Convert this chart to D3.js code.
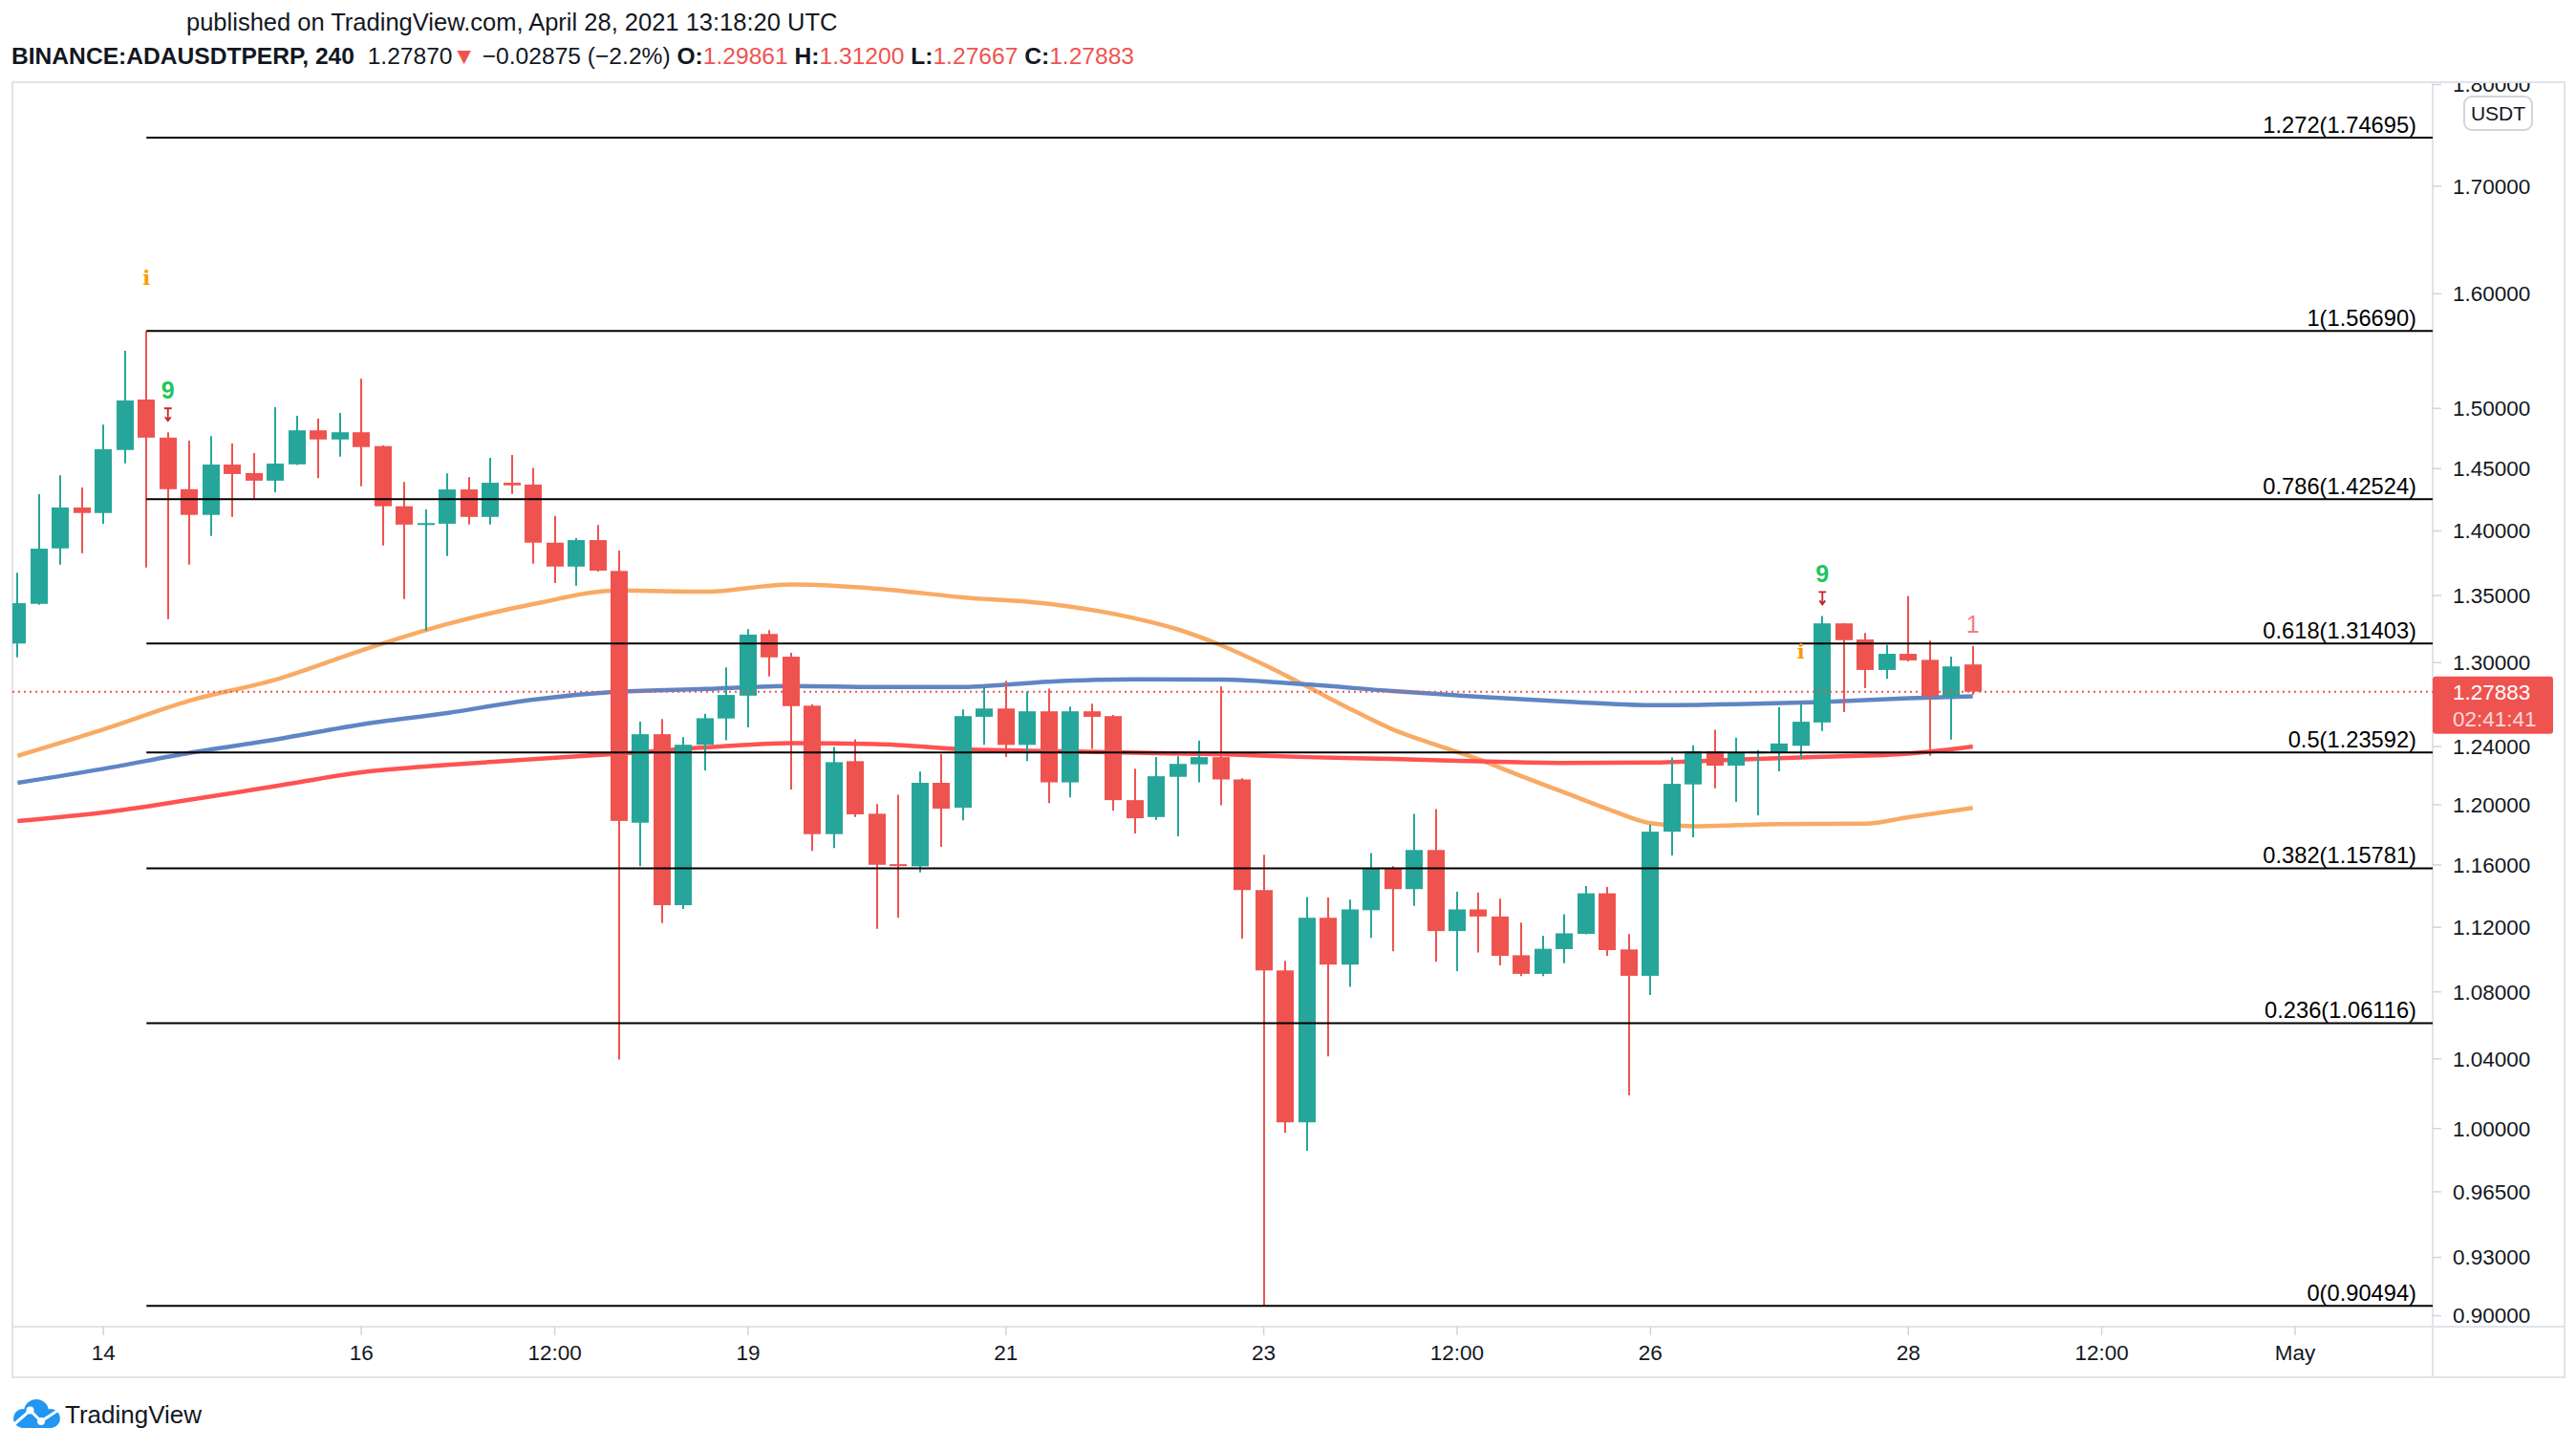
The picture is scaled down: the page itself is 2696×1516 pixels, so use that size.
<!DOCTYPE html>
<html><head><meta charset="utf-8">
<script src="https://cdn.jsdelivr.net/npm/d3@7"></script>
<style>
html,body{margin:0;padding:0;background:#fff;}
svg{display:block;font-family:"Liberation Sans",Arial,sans-serif;}
</style></head><body>
<svg id="chart" width="2696" height="1516"></svg>
<script>
// ---------------- data ----------------
const firstCandle = "2021-04-13T08:00:00Z";   // 4h candles
const intervalHours = 4;
const opens  = [1.3140,1.3437,1.3863,1.4186,1.4142,1.4653,1.5075,1.4755,1.4333,1.4127,1.4533,1.4464,1.4402,1.4535,1.4816,1.4740,1.4800,1.4685,1.4196,1.4050,1.4057,1.4331,1.4111,1.4385,1.4370,1.3908,1.3722,1.3928,1.3688,1.1879,1.2486,1.1340,1.2412,1.2597,1.2760,1.3211,1.3043,1.2688,1.1803,1.2298,1.1939,1.1605,1.1591,1.2149,1.1980,1.2609,1.2668,1.2411,1.2648,1.2152,1.2648,1.2614,1.2031,1.1917,1.2190,1.2276,1.2326,1.2172,1.1437,1.0931,1.0035,1.1260,1.0967,1.1308,1.1580,1.1443,1.1698,1.1176,1.1313,1.1268,1.1025,1.0910,1.1063,1.1158,1.1416,1.1061,1.0898,1.1819,1.2138,1.2367,1.2267,1.2354,1.2360,1.2405,1.2569,1.3290,1.3170,1.2946,1.3064,1.3020,1.2753,1.29861];
const highs  = [1.3674,1.4293,1.4446,1.4346,1.4863,1.5495,1.5669,1.4800,1.4730,1.4769,1.4706,1.4627,1.5010,1.4938,1.4913,1.4962,1.5253,1.4690,1.4392,1.4171,1.4461,1.4431,1.4588,1.4611,1.4507,1.4119,1.3943,1.4047,1.3847,1.2574,1.2594,1.2466,1.2630,1.2965,1.3246,1.3240,1.3071,1.2699,1.2397,1.2450,1.2004,1.2068,1.2226,1.2346,1.2661,1.2820,1.2868,1.2791,1.2811,1.2682,1.2702,1.2622,1.2246,1.2326,1.2331,1.2441,1.2826,1.2180,1.1667,1.0990,1.1393,1.1390,1.1375,1.1678,1.1592,1.1939,1.1971,1.1426,1.1421,1.1381,1.1230,1.1146,1.1283,1.1463,1.1457,1.1157,1.1867,1.2324,1.2409,1.2518,1.2462,1.2374,1.2679,1.2699,1.3346,1.3290,1.3219,1.3129,1.3497,1.3161,1.3043,1.31200];
const lows   = [1.3038,1.3430,1.3736,1.3826,1.4057,1.4543,1.3714,1.3321,1.3736,1.3960,1.4111,1.4256,1.4308,1.4530,1.4423,1.4598,1.4356,1.3886,1.3473,1.3234,1.3804,1.4050,1.4050,1.4295,1.3744,1.3596,1.3575,1.3684,1.0396,1.1591,1.1227,1.1316,1.2234,1.2443,1.2535,1.2899,1.2104,1.1692,1.1711,1.1917,1.1190,1.1259,1.1551,1.1718,1.1895,1.2411,1.2326,1.2298,1.2011,1.2049,1.2384,1.1959,1.1808,1.1897,1.1788,1.2152,1.1996,1.1129,0.90494,0.9975,0.9875,1.0414,1.0831,1.1133,1.1049,1.1335,1.0984,1.0927,1.1042,1.0963,1.0896,1.0896,1.0975,1.1155,1.1021,1.0188,1.0781,1.1662,1.1782,1.2111,1.2019,1.1929,1.2228,1.2313,1.2509,1.2642,1.2813,1.2881,1.3009,1.2335,1.2449,1.27667];
const closes = [1.3442,1.3861,1.4186,1.4142,1.4659,1.5067,1.4755,1.4333,1.4127,1.4533,1.4456,1.4402,1.4541,1.4816,1.4740,1.4800,1.4677,1.4196,1.4050,1.4062,1.4331,1.4111,1.4385,1.4364,1.3908,1.3722,1.3928,1.3691,1.1891,1.2486,1.1340,1.2412,1.2599,1.2765,1.3206,1.3038,1.2685,1.1803,1.2291,1.1935,1.1601,1.1594,1.2149,1.1973,1.2614,1.2668,1.2411,1.2648,1.2152,1.2648,1.2609,1.2031,1.1909,1.2194,1.2279,1.2326,1.2172,1.1437,1.0931,1.0035,1.1260,1.0967,1.1313,1.1580,1.1443,1.1698,1.1176,1.1313,1.1268,1.1021,1.0910,1.1065,1.1162,1.1416,1.1057,1.0898,1.1819,1.2142,1.2367,1.2267,1.2361,1.2365,1.2421,1.2574,1.3290,1.3165,1.2946,1.3064,1.3016,1.2757,1.2972,1.27883];

// moving averages, sampled at candle numbers (0 = first candle)
const maOrangeIdx = [0,4,8,12,16,20,24,28,32,36,40,44,48,52,54,56,58,60,62,64,66,68,70,72,74,76,78,82,86,88,91];
const maOrange    = [1.2335,1.2520,1.2724,1.2875,1.3089,1.3285,1.3435,1.3539,1.3529,1.3584,1.3552,1.3486,1.3437,1.3328,1.3245,1.3128,1.2985,1.2827,1.2667,1.2520,1.2412,1.2311,1.2194,1.2083,1.1972,1.1876,1.1855,1.1870,1.1872,1.1916,1.1978];
const maBlueIdx   = [0,4,8,12,16,20,24,28,32,36,40,44,48,52,56,60,64,68,72,76,80,84,88,91];
const maBlue      = [1.2149,1.2245,1.2355,1.2449,1.2555,1.2636,1.2732,1.2789,1.2808,1.2830,1.2822,1.2823,1.2861,1.2877,1.2876,1.2841,1.2793,1.2752,1.2718,1.2692,1.2698,1.2715,1.2742,1.2755];
const maRedIdx    = [0,4,8,12,16,20,24,28,32,36,40,44,48,52,56,60,64,68,72,76,80,84,88,91];
const maRed       = [1.1890,1.1948,1.2033,1.2126,1.2221,1.2272,1.2312,1.2350,1.2393,1.2424,1.2417,1.2381,1.2369,1.2356,1.2346,1.2326,1.2313,1.2297,1.2286,1.2288,1.2308,1.2328,1.2350,1.2400];

const fibStart  = "2021-04-14T08:00:00Z";
const fibLevels = [1.272, 1, 0.786, 0.618, 0.5, 0.382, 0.236, 0];
const fibPrices = [1.74695, 1.56690, 1.42524, 1.31403, 1.23592, 1.15781, 1.06116, 0.90494];

const yTicks = [1.8,1.7,1.6,1.5,1.45,1.4,1.35,1.3,1.24,1.2,1.16,1.12,1.08,1.04,1.0,0.965,0.93,0.9];
const xTickDates  = ["2021-04-14T00:00:00Z","2021-04-16T00:00:00Z","2021-04-17T12:00:00Z","2021-04-19T00:00:00Z","2021-04-21T00:00:00Z","2021-04-23T00:00:00Z","2021-04-24T12:00:00Z","2021-04-26T00:00:00Z","2021-04-28T00:00:00Z","2021-04-29T12:00:00Z","2021-05-01T00:00:00Z"];
const xTickLabels = ["14","16","12:00","19","21","23","12:00","26","28","12:00","May"];

const lastPrice = 1.27883;
const countdown = "02:41:41";

// signal markers: candle number, text, colour
const markerIdx   = [6, 83, 7, 84, 91];
const markerText  = ["i", "i", "9", "9", "1"];
const markerColor = ["#ff9800", "#ff9800", "#22c55e", "#22c55e", "#f77c80"];

// ---------------- drawing ----------------
const svg = d3.select("#chart");
const P = {left: 13, right: 2546, top: 86, bottom: 1388, axisRight: 2684, axisBottom: 1441};
const TEXT = "#131722", RED = "#ef5350", GREEN = "#26a69a", BORDER = "#e0e3eb";

const x = d3.scaleUtc()
  .domain([new Date("2021-04-14T00:00:00Z"), new Date("2021-05-01T00:00:00Z")])
  .range([108.3, 2402]);
const y = d3.scaleLog().domain([0.9, 1.8]).range([1376.5, 88.5]);

const t0 = new Date(firstCandle).getTime();
const tOf = k => new Date(t0 + k * intervalHours * 3600e3);
const candles = opens.map((o, k) => ({t: tOf(k), o, h: highs[k], l: lows[k], c: closes[k]}));

svg.append("rect").attr("width", 2696).attr("height", 1516).attr("fill", "#fff");

const defs = svg.append("defs");
defs.append("clipPath").attr("id", "plotClip").append("rect")
  .attr("x", P.left).attr("y", P.top).attr("width", P.right - P.left).attr("height", P.bottom - P.top);
defs.append("clipPath").attr("id", "axisClip").append("rect")
  .attr("x", P.right).attr("y", P.top + 1).attr("width", P.axisRight - P.right).attr("height", P.bottom - P.top);

// header
const hdr = svg.append("g").attr("fill", TEXT);
hdr.append("text").attr("x", 195).attr("y", 32).style("font-size", "25.5px")
  .text("published on TradingView.com, April 28, 2021 13:18:20 UTC");
const l2 = hdr.append("text").attr("x", 12).attr("y", 67).style("font-size", "24.6px");
const parts = [
  ["BINANCE:ADAUSDTPERP, 240", "bold", TEXT], ["  1.27870", "normal", TEXT], ["▼", "normal", RED],
  [" −0.02875 (−2.2%) ", "normal", TEXT], ["O:", "bold", TEXT], ["1.29861", "normal", RED],
  [" H:", "bold", TEXT], ["1.31200", "normal", RED], [" L:", "bold", TEXT], ["1.27667", "normal", RED],
  [" C:", "bold", TEXT], ["1.27883", "normal", RED]];
parts.forEach(p => l2.append("tspan").attr("font-weight", p[1]).attr("fill", p[2]).attr("xml:space","preserve").text(p[0]));

// frame
const fr = svg.append("g").attr("stroke", BORDER).attr("stroke-width", 2).attr("fill", "none");
fr.append("rect").attr("x", P.left).attr("y", P.top).attr("width", P.axisRight - P.left).attr("height", P.axisBottom - P.top);
fr.append("line").attr("x1", P.right).attr("x2", P.right).attr("y1", P.top).attr("y2", P.axisBottom);
fr.append("line").attr("x1", P.left).attr("x2", P.axisRight).attr("y1", P.bottom).attr("y2", P.bottom);

const plot = svg.append("g").attr("clip-path", "url(#plotClip)");

// moving averages
const maLine = (idx, vals) => d3.line().curve(d3.curveMonotoneX)
  .x((d, j) => x(tOf(idx[j]))).y(d => y(d))(vals);
[[maOrangeIdx, maOrange, "#f9aa64"], [maBlueIdx, maBlue, "#6085c4"], [maRedIdx, maRed, "#ff5252"]]
  .forEach(([idx, vals, col]) => plot.append("path").attr("d", maLine(idx, vals))
    .attr("fill", "none").attr("stroke", col).attr("stroke-width", 4.5).attr("stroke-linejoin", "round"));

// candles
const bw = 18;
const cg = plot.append("g");
candles.forEach(d => {
  const col = d.c >= d.o ? GREEN : RED;
  const cx = Math.round(x(d.t));
  cg.append("line").attr("x1", cx).attr("x2", cx).attr("y1", y(d.h)).attr("y2", y(d.l))
    .attr("stroke", col).attr("stroke-width", 2);
  const top = y(Math.max(d.o, d.c)), bot = y(Math.min(d.o, d.c));
  cg.append("rect").attr("x", cx - bw / 2).attr("y", top).attr("width", bw)
    .attr("height", Math.max(2, bot - top)).attr("fill", col);
});

// fib retracement
const fg = plot.append("g");
const fx0 = x(new Date(fibStart));
fibLevels.forEach((lv, j) => {
  const yy = y(fibPrices[j]);
  fg.append("line").attr("x1", fx0).attr("x2", P.right).attr("y1", yy).attr("y2", yy)
    .attr("stroke", "#000").attr("stroke-width", 2);
  fg.append("text").attr("x", 2529).attr("y", yy - 5).attr("text-anchor", "end")
    .style("font-size", "23.7px").attr("fill", "#000").text(`${lv}(${fibPrices[j].toFixed(5)})`);
});

// last price dotted line
plot.append("line").attr("x1", P.left).attr("x2", P.right).attr("y1", y(lastPrice)).attr("y2", y(lastPrice))
  .attr("stroke", RED).attr("stroke-width", 2).attr("stroke-dasharray", "2,4");

// markers
const mg = plot.append("g");
markerIdx.forEach((k, j) => {
  const cx = x(tOf(k)), hy = y(highs[k]);
  const txt = markerText[j];
  if (txt === "i") {
    mg.append("text").attr("x", cx).attr("y", hy - 48).attr("text-anchor", "middle")
      .style("font-family", "'DejaVu Serif',serif").style("font-size", "21px").attr("font-weight", "bold")
      .attr("fill", markerColor[j]).text("i");
  } else if (txt === "9") {
    mg.append("text").attr("x", cx).attr("y", hy - 35).attr("text-anchor", "middle")
      .style("font-size", "25px").attr("font-weight", "bold").attr("fill", markerColor[j]).text("9");
    const ay = hy - 18;
    mg.append("path").attr("d", `M${cx-4},${ay-7}H${cx+4}M${cx},${ay-7}V${ay+6}M${cx-3},${ay+2}L${cx},${ay+6}L${cx+3},${ay+2}`)
      .attr("stroke", "#c62828").attr("stroke-width", 1.8).attr("fill", "none");
  } else {
    mg.append("text").attr("x", cx).attr("y", hy - 14).attr("text-anchor", "middle")
      .style("font-size", "25px").attr("fill", markerColor[j]).text(txt);
  }
});

// y axis
const ya = svg.append("g").attr("clip-path", "url(#axisClip)");
yTicks.forEach(v => {
  const yy = y(v);
  ya.append("line").attr("x1", P.right).attr("x2", P.right + 9).attr("y1", yy).attr("y2", yy)
    .attr("stroke", "#d1d4dc").attr("stroke-width", 1.5);
  ya.append("text").attr("x", 2567).attr("y", yy).attr("dy", "0.35em")
    .style("font-size", "22.5px").attr("fill", TEXT).text(d3.format(".5f")(v));
});

// USDT badge
svg.append("rect").attr("x", 2579).attr("y", 101).attr("width", 71).attr("height", 35).attr("rx", 8)
  .attr("fill", "#fff").attr("stroke", "#d1d4dc").attr("stroke-width", 2);
svg.append("text").attr("x", 2614.5).attr("y", 119).attr("dy", "0.35em").attr("text-anchor", "middle")
  .style("font-size", "21px").attr("fill", TEXT).text("USDT");

// last price label
const ly = y(lastPrice);
svg.append("rect").attr("x", P.right).attr("y", ly - 16).attr("width", 126).attr("height", 60)
  .attr("rx", 3).attr("fill", RED);
svg.append("text").attr("x", 2567).attr("y", ly).attr("dy", "0.35em").style("font-size", "22.5px")
  .attr("fill", "#fff").text(d3.format(".5f")(lastPrice));
svg.append("text").attr("x", 2567).attr("y", ly + 28).attr("dy", "0.35em").style("font-size", "22.5px")
  .attr("fill", "#fff").attr("fill-opacity", 0.8).text(countdown);

// x axis
const xa = svg.append("g");
xTickDates.forEach((d, j) => {
  const xx = x(new Date(d));
  xa.append("line").attr("x1", xx).attr("x2", xx).attr("y1", P.bottom).attr("y2", P.bottom + 9)
    .attr("stroke", "#d1d4dc").attr("stroke-width", 1.5);
  xa.append("text").attr("x", xx).attr("y", 1415).attr("dy", "0.35em").attr("text-anchor", "middle")
    .style("font-size", "22.5px").attr("fill", TEXT).text(xTickLabels[j]);
});

// TradingView logo
const lg = svg.append("g");
const blue = "#2196f3";
lg.append("circle").attr("cx", 24).attr("cy", 1484).attr("r", 10).attr("fill", blue);
lg.append("circle").attr("cx", 38).attr("cy", 1477).attr("r", 13).attr("fill", blue);
lg.append("circle").attr("cx", 53).attr("cy", 1484).attr("r", 10).attr("fill", blue);
lg.append("rect").attr("x", 22).attr("y", 1480).attr("width", 33).attr("height", 14).attr("fill", blue);
lg.append("polyline").attr("points", "15,1490 31.5,1475.5 43,1487 60,1476")
  .attr("fill", "none").attr("stroke", "#fff").attr("stroke-width", 3);
lg.append("circle").attr("cx", 31.5).attr("cy", 1475.5).attr("r", 4).attr("fill", "#fff");
lg.append("circle").attr("cx", 43).attr("cy", 1487).attr("r", 4).attr("fill", "#fff");
lg.append("text").attr("x", 68).attr("y", 1489).style("font-size", "26px").attr("fill", TEXT).text("TradingView");
</script>
</body></html>
